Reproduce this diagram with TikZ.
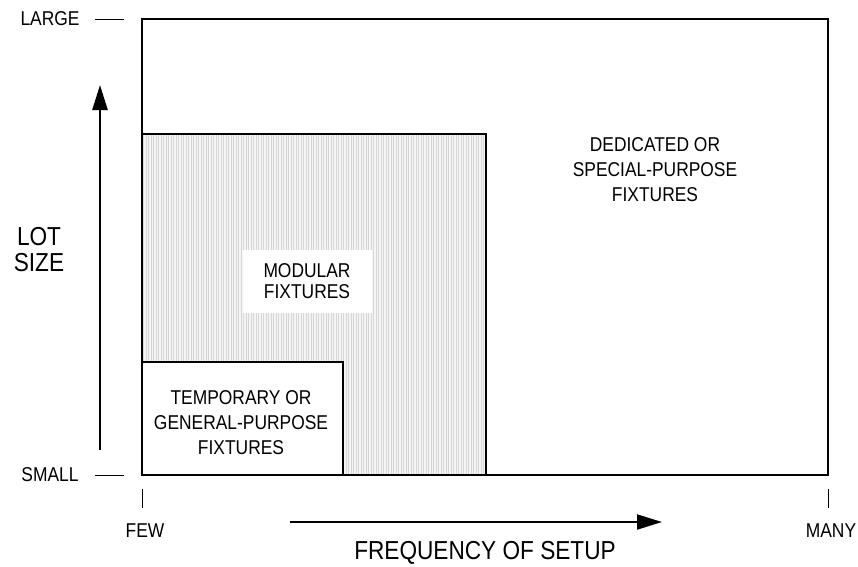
\documentclass[tikz,border=0pt]{standalone}
\usepackage{fontspec}
\setmainfont{Liberation Sans}[FakeStretch=0.87]
\usetikzlibrary{arrows.meta}

\begin{document}
\begin{tikzpicture}[x=1pt, y=-1pt, >={Triangle[length=25pt,width=15pt]},
    lbl/.style={font=\fontsize{20}{25}\selectfont, align=center, inner sep=0pt},
    axlbl/.style={font=\fontsize{26}{29}\selectfont, align=center, inner sep=0pt}]
    \useasboundingbox (0,0) rectangle (858,566);

    % modular region, vertical hatching
    \fill[gray!8] (142,134) rectangle (486,475);
    \foreach \x in {143.5,146,...,485}
        \draw[gray!32, line width=0.5pt] (\x,134) -- (\x,475);
    \draw[line width=1.1pt] (142,134) rectangle (486,475);

    % temporary region
    \fill[white] (142,362) rectangle (343,475);
    \draw[line width=1.1pt] (142,362) rectangle (343,475);

    % whole field
    \draw[line width=1.2pt] (142,19) rectangle (828,475);

    \node[lbl] (ded) at (655,170) {DEDICATED OR\\SPECIAL-PURPOSE\\FIXTURES};
    \node[lbl, fill=white, minimum width=129pt, minimum height=63pt,
          font=\fontsize{20}{21}\selectfont] (mod) at (307,281) {MODULAR\\FIXTURES};
    \node[lbl] (temp) at (241,423) {TEMPORARY OR\\GENERAL-PURPOSE\\FIXTURES};

    % lot size axis
    \node[lbl] (large) at (50,19) {LARGE};
    \node[lbl] (small) at (50,475) {SMALL};
    \draw[line width=1pt] (95,19) -- (124,19);
    \draw[line width=1pt] (95,475) -- (124,475);
    \coordinate (up0) at (100,450);
    \coordinate (up1) at (100,85);
    \draw[->, line width=2.4pt] (up0) -- (up1);
    \node[axlbl, font=\fontsize{26}{26}\selectfont] (lot) at (39,250) {LOT\\SIZE};

    % frequency axis
    \draw[line width=1pt] (142,489) -- (142,508);
    \draw[line width=1pt] (828,489) -- (828,508);
    \node[lbl] (few) at (145,531) {FEW};
    \node[lbl] (many) at (831,531) {MANY};
    \coordinate (rt0) at (290,522);
    \coordinate (rt1) at (662,522);
    \draw[->, line width=2pt] (rt0) -- (rt1);
    \node[axlbl] (freq) at (485,553) {FREQUENCY OF SETUP};
\end{tikzpicture}
\end{document}
